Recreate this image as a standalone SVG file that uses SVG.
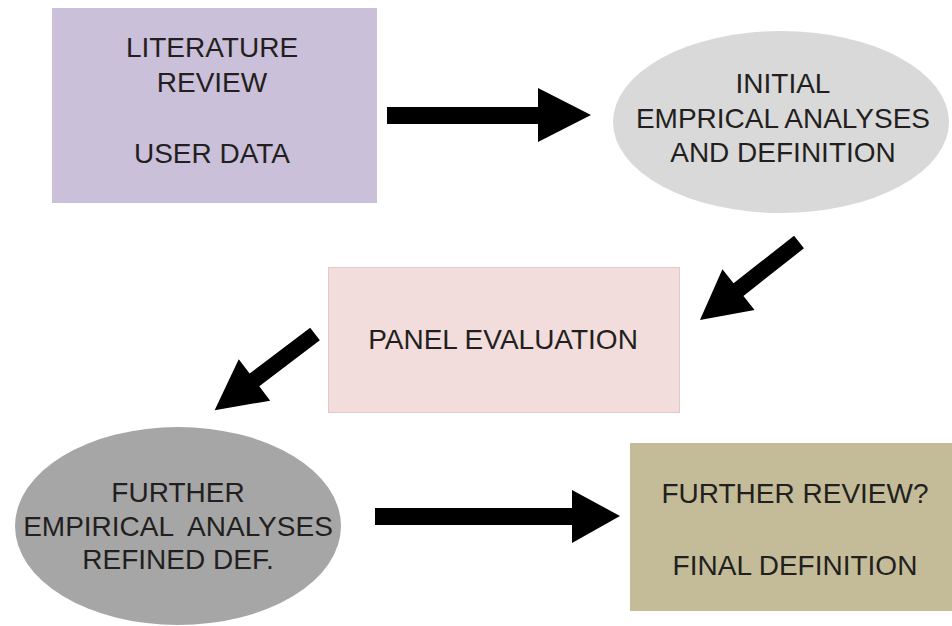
<svg xmlns="http://www.w3.org/2000/svg" width="952" height="626" viewBox="0 0 952 626">
<style>
  text { font-family: "Liberation Sans", Arial, sans-serif; font-size: 28px; fill: #231f20; text-anchor: middle; }
  .arrow { fill: #000000; }
</style>
<rect x="0" y="0" width="952" height="626" fill="#ffffff"/>
<g id="literature-review">
  <rect x="52" y="8" width="325" height="195" fill="#cbc0da"/>
  <text x="212" y="57">LITERATURE</text>
  <text x="212" y="92">REVIEW</text>
  <text x="212" y="163">USER DATA</text>
</g>
<g id="initial-analyses">
  <ellipse cx="781" cy="122" rx="168" ry="91" fill="#d9d9d9"/>
  <text x="783" y="93">INITIAL</text>
  <text x="783" y="128">EMPRICAL ANALYSES</text>
  <text x="783" y="162">AND DEFINITION</text>
</g>
<g id="panel-evaluation">
  <rect x="328.5" y="267.5" width="351" height="145" fill="#f2dcdc" stroke="#e3caca" stroke-width="1"/>
  <text x="503" y="349">PANEL EVALUATION</text>
</g>
<g id="further-analyses">
  <ellipse cx="178" cy="526" rx="163" ry="99" fill="#a6a6a6"/>
  <text x="178" y="502">FURTHER</text>
  <text x="178" y="536" xml:space="preserve">EMPIRICAL  ANALYSES</text>
  <text x="178" y="569">REFINED DEF.</text>
</g>
<g id="final-definition">
  <rect x="630" y="443" width="330" height="168" fill="#c4bc98"/>
  <text x="795" y="503">FURTHER REVIEW?</text>
  <text x="795" y="575">FINAL DEFINITION</text>
</g>
<g id="connectors">
  <polygon class="arrow" points="387,107 538,107 538,88 591,115 538,142 538,124 387,124"/>
  <polygon class="arrow" transform="translate(799,242) rotate(141.8)" points="0,-8 77,-8 77,-26 126,0 77,26 77,8 0,8"/>
  <polygon class="arrow" transform="translate(315,334) rotate(142.8)" points="0,-8 76,-8 76,-26 126,0 76,26 76,8 0,8"/>
  <polygon class="arrow" points="375,508 572,508 572,490 620,516 572,543 572,525 375,525"/>
</g>
</svg>
